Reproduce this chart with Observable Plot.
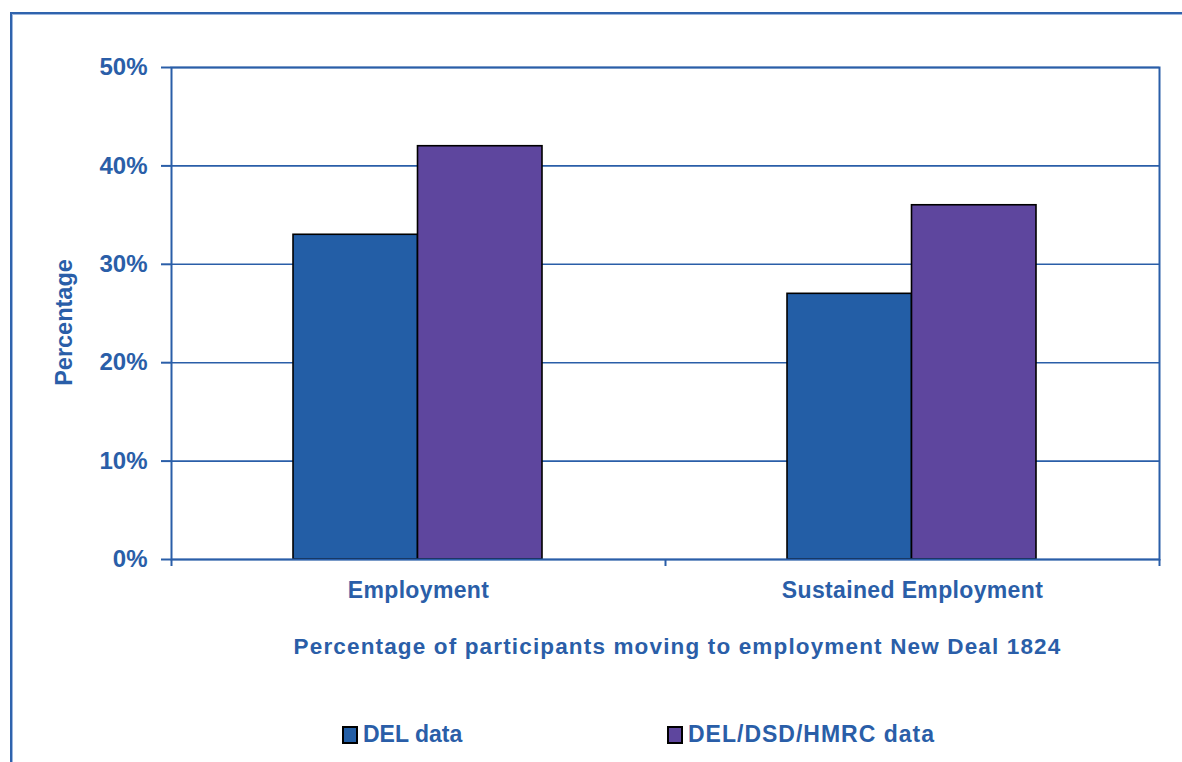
<!DOCTYPE html>
<html>
<head>
<meta charset="utf-8">
<script src="https://cdn.jsdelivr.net/npm/d3@7"></script>
<script src="https://cdn.jsdelivr.net/npm/@observablehq/plot@0.6"></script>
<style>
  html, body { margin: 0; padding: 0; background: #fff; width: 1182px; height: 762px; overflow: hidden; }
  #outer { position: absolute; left: 10px; top: 12px; width: 1300px; height: 900px; border: 2px solid #2F63AD; box-shadow: inset 0 0 0 1px #9DB7DE; box-sizing: border-box; }
  #chart { position: absolute; left: 0; top: 0; }
  #legend { position: absolute; top: 721px; left: 0; width: 1182px; height: 30px; font-family: "Liberation Sans", Arial, sans-serif; font-weight: bold; font-size: 23px; color: #2A5EA8; }
  .item { position: absolute; top: 0; display: flex; align-items: center; white-space: nowrap; }
  .sw { width: 12px; height: 14px; border: 2px solid #000; margin-right: 5px; }
</style>
</head>
<body>
<div id="outer"></div>
<div id="chart"></div>
<div id="legend"></div>
<script>
// ---- data ----
const categories = ["Employment", "Sustained Employment"];
const series = ["DEL data", "DEL/DSD/HMRC data"];
const delValues = [0.33, 0.27];
const hmrcValues = [0.42, 0.36];
const yTicks = [0, 0.1, 0.2, 0.3, 0.4, 0.5];
const xTitle = "Percentage of participants moving to employment New Deal 1824";
const yTitle = "Percentage";
const colors = ["#235EA6", "#5E469E"];

const blue = "#2A5EA8";
const seriesValues = [delValues, hmrcValues];
const groupStart = 0.247, barW = 0.252;
const rows = [];
categories.forEach((c, i) => {
  series.forEach((s, j) => {
    rows.push({cat: c, series: s, value: seriesValues[j][i],
      x1: i + groupStart + j * barW, x2: i + groupStart + (j + 1) * barW});
  });
});

const chart = Plot.plot({
  width: 1182,
  height: 680,
  marginLeft: 171,
  marginRight: 23,
  marginTop: 67,
  marginBottom: 121,
  style: {color: blue, fontFamily: "'Liberation Sans', Arial, sans-serif", fontWeight: "bold", background: "transparent"},
  x: {domain: [0, 2], axis: null},
  y: {domain: [0, 0.5], axis: null},
  color: {domain: series, range: colors},
  marks: [
    Plot.ruleY(yTicks, {stroke: blue, strokeWidth: 1.6}),
    Plot.rectY(rows, {x1: "x1", x2: "x2", y: "value", fill: "series", stroke: "#000", strokeWidth: 1.6}),
    Plot.frame({stroke: blue, strokeWidth: 2}),
    Plot.axisY(yTicks, {label: null, tickSize: 10, tickPadding: 14, tickFormat: d3.format(".0%"), fontSize: 24, strokeWidth: 2}),
    Plot.axisX([0, 1, 2], {label: null, tickSize: 7, tickFormat: () => "", strokeWidth: 2}),
    Plot.text(categories, {x: (d, i) => i + 0.5, frameAnchor: "bottom", dy: 38, fontSize: 23, fill: blue, className: "cat-label"}),
    Plot.text([xTitle], {frameAnchor: "bottom", dy: 94, dx: 12, fontSize: 22.5, fill: blue, className: "x-title"}),
    Plot.text([yTitle], {frameAnchor: "left", textAnchor: "middle", dx: -107, dy: 9, rotate: -90, fontSize: 23.5, fill: blue})
  ]
});
d3.select(chart).selectAll(".x-title text").attr("letter-spacing", "1.15px");
d3.select(chart).selectAll(".cat-label text").attr("letter-spacing", "0.35px");
document.getElementById("chart").appendChild(chart);

const legend = document.getElementById("legend");
const legendLeft = [342, 667];
series.forEach((s, j) => {
  const item = document.createElement("div");
  item.className = "item";
  item.style.left = legendLeft[j] + "px";
  const sw = document.createElement("div");
  sw.className = "sw";
  sw.style.background = colors[j];
  const t = document.createElement("span");
  t.textContent = s;
  t.style.letterSpacing = j === 1 ? "1px" : "0";
  item.appendChild(sw);
  item.appendChild(t);
  legend.appendChild(item);
});
</script>
</body>
</html>
